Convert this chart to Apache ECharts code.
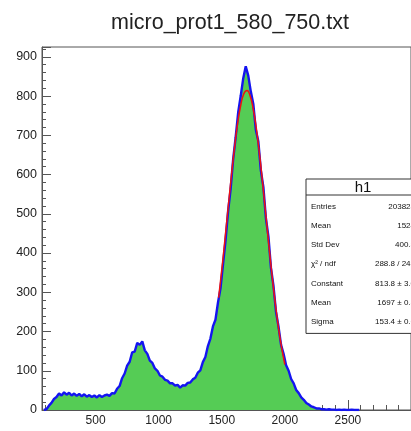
<!DOCTYPE html>
<html>
<head>
<meta charset="utf-8">
<script src="https://cdn.jsdelivr.net/npm/echarts@6/dist/echarts.min.js"></script>
<style>html,body{margin:0;padding:0;background:#fff;}#c{width:411px;height:431px;}</style>
</head>
<body>
<div id="c"></div>
<script>
// Histogram: bins of width 20 starting at 80 (bin centres 90, 110, ...)
const binLow = 80;
const binWidth = 20;
const counts = [
  0, 2, 11, 18, 28, 33, 42, 37, 45, 39,
  44, 37, 42, 36, 41, 35, 40, 34, 38, 33,
  37, 32, 38, 33, 37, 39, 36, 43, 42, 54,
  61, 81, 93, 113, 123, 147, 149, 171, 166, 175,
  152, 143, 126, 120, 106, 100, 88, 85, 77, 75,
  68, 68, 62, 64, 57, 63, 62, 69, 70, 78,
  82, 95, 101, 122, 135, 163, 182, 213, 230, 274,
  310, 372, 432, 506, 562, 638, 695, 758, 800, 845,
  876, 852, 812, 780, 714, 684, 610, 568, 488, 442,
  362, 316, 250, 212, 166, 143, 114, 100, 79, 68,
  51, 43, 32, 26, 18, 14, 9, 7, 4, 4,
  2, 2, 1, 2, 1, 1, 0, 1, 0, 1,
  0, 0, 1, 0, 0, 0
];
// Gaussian fit curve values
const fitX = [1475,1500,1525,1550,1575,1600,1625,1650,1675,1700,1725,1750,1775,1800,1825,1850,1875,1900,1925,1950,1975,2000];
const fitY = [286,357,434,514,593,666,729,776,806,814,800,766,715,650,575,495,415,339,270,209,158,116];
const xTicks = [500, 1000, 1500, 2000, 2500];
const xMinorTicks = [100,200,300,400,600,700,800,900,1100,1200,1300,1400,1600,1700,1800,1900,2100,2200,2300,2400,2600,2700,2800,2900];
const title = 'micro_prot1_580_750.txt';
const statsTitle = 'h1';
const statsLabels = ['Entries', 'Mean', 'Std Dev', 'χ² / ndf', 'Constant', 'Mean', 'Sigma'];
const statsValues = ['203828', '1524', '400.3', '288.8 / 243', '813.8 ± 3.0', '1697 ± 0.5', '153.4 ± 0.6'];

const histData = counts.map((v, i) => [binLow + binWidth * (i + 0.5), v]);
const fitData = fitX.map((x, i) => [x, fitY[i]]);

const FONT = 'Liberation Sans, Arial, sans-serif';
const axisColor = '#555';

const graphics = [];
const box = {left: 306, top: 179, width: 114, header: 16, rowH: 19.2, rows: statsLabels.length};
const boxH = box.header + box.rowH * box.rows + 4;
graphics.push({type: 'rect', shape: {x: box.left, y: box.top, width: box.width, height: boxH},
  style: {fill: '#fff', stroke: '#333', lineWidth: 1}, z: 100});
graphics.push({type: 'line', shape: {x1: box.left, y1: box.top + box.header, x2: box.left + box.width, y2: box.top + box.header},
  style: {stroke: '#333', lineWidth: 1}, z: 101});
graphics.push({type: 'text', x: box.left + box.width / 2, y: box.top + box.header / 2 + 1,
  style: {text: statsTitle, font: '15px ' + FONT, fill: '#111', align: 'center', verticalAlign: 'middle'}, z: 102});
statsLabels.forEach((lab, i) => {
  const y = box.top + box.header + box.rowH * (i + 0.5) + 2;
  graphics.push({type: 'text', x: box.left + 5, y: y,
    style: {text: lab, font: '8px ' + FONT, fill: '#111', align: 'left', verticalAlign: 'middle'}, z: 102});
  graphics.push({type: 'text', x: box.left + box.width - 5, y: y,
    style: {text: statsValues[i], font: '8px ' + FONT, fill: '#111', align: 'right', verticalAlign: 'middle'}, z: 102});
});
graphics.push({type: 'text', x: 230, y: 23,
  style: {text: title, font: '21.5px ' + FONT, fill: '#222', align: 'center', verticalAlign: 'middle'}, z: 102});

const chart = echarts.init(document.getElementById('c'), null, {renderer: 'canvas'});
chart.setOption({
  animation: false,
  backgroundColor: '#fff',
  grid: {left: 42, top: 47, width: 385.5, height: 363, show: true, borderColor: axisColor, borderWidth: 1, backgroundColor: 'transparent'},
  xAxis: [{
    type: 'value', min: 75, max: 3000,
    axisLine: {show: true, lineStyle: {color: axisColor, width: 1}},
    axisTick: {show: true, inside: true, length: 10, customValues: xTicks, lineStyle: {color: axisColor}},
    axisLabel: {show: true, customValues: xTicks, margin: 5, fontSize: 12, fontFamily: FONT, color: '#222',
      formatter: v => String(v)},
    splitLine: {show: false}
  }, {
    type: 'value', min: 75, max: 3000, position: 'bottom', gridIndex: 0,
    axisLine: {show: false},
    axisTick: {show: true, inside: true, length: 5, customValues: xMinorTicks, lineStyle: {color: axisColor}},
    axisLabel: {show: false},
    splitLine: {show: false}
  }],
  yAxis: {
    type: 'value', min: 0, max: 925, interval: 100,
    axisLine: {show: true, lineStyle: {color: axisColor, width: 1}},
    axisTick: {show: true, inside: true, length: 9, lineStyle: {color: axisColor}},
    minorTick: {show: true, splitNumber: 5, length: 4, lineStyle: {color: axisColor}},
    axisLabel: {margin: 5, fontSize: 12.5, fontFamily: FONT, color: '#222', showMaxLabel: false,
      formatter: v => (v % 100 === 0 ? String(v) : '')},
    splitLine: {show: false}
  },
  series: [{
    type: 'line', data: histData, symbol: 'none', xAxisIndex: 0,
    lineStyle: {color: '#1414f0', width: 2.4},
    areaStyle: {color: '#55cc55', opacity: 1},
    z: 2
  }, {
    type: 'line', data: fitData, smooth: true, symbol: 'none', xAxisIndex: 0,
    lineStyle: {color: '#ee1111', width: 1.5},
    z: 3
  }],
  graphic: graphics
});
</script>
</body>
</html>
